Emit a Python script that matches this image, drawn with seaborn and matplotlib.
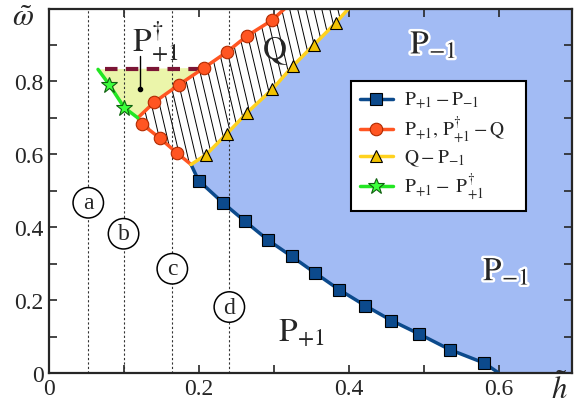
import numpy as np
import seaborn as sns
import matplotlib.pyplot as plt
import matplotlib.patheffects as pe
from matplotlib.patches import Polygon

# boundary P+1 - P-1 (squares), first/last points are line ends
h_blue = [0.190, 0.200, 0.233, 0.262, 0.293, 0.324, 0.355, 0.387, 0.422, 0.457, 0.494, 0.535, 0.581, 0.600]
w_blue = [0.572, 0.528, 0.466, 0.416, 0.364, 0.320, 0.275, 0.229, 0.185, 0.144, 0.107, 0.064, 0.027, 0.000]

# boundary P+1, P+1(dagger) - Q (circles), kink at index 4
h_red = [0.190, 0.171, 0.148, 0.125, 0.119, 0.141, 0.174, 0.207, 0.238, 0.264, 0.298, 0.315]
w_red = [0.572, 0.604, 0.645, 0.682, 0.700, 0.743, 0.791, 0.837, 0.881, 0.924, 0.968, 1.000]

# boundary Q - P-1 (triangles)
h_yel = [0.190, 0.210, 0.238, 0.264, 0.298, 0.326, 0.354, 0.383, 0.400]
w_yel = [0.572, 0.599, 0.657, 0.713, 0.778, 0.843, 0.901, 0.961, 1.000]

# boundary P+1 - P+1(dagger) (stars)
h_grn = [0.066, 0.081, 0.101, 0.119]
w_grn = [0.833, 0.791, 0.728, 0.700]

# dashed upper limit of P+1(dagger)
h_dash = [0.075, 0.207]
w_dash = [0.835, 0.835]

# vertical cuts a-d
cut_h = [0.053, 0.100, 0.165, 0.241]
cut_w = [0.467, 0.382, 0.286, 0.181]
cut_lab = ['a', 'b', 'c', 'd']

xmax, ymax = 0.697, 1.0

sns.set_style('ticks')
plt.rcParams['font.family'] = ['Liberation Serif', 'DejaVu Serif']
plt.rcParams['mathtext.fontset'] = 'stix'

fig = plt.figure(figsize=(5.74, 4.10), dpi=100)
ax = fig.add_axes([48.5 / 574, 36 / 410, 523 / 574, 364.5 / 410])

col_fill = '#a2bbf4'
col_dag = '#ebf5aa'

# P-1 region
px = h_yel + [xmax, xmax] + h_blue[::-1]
py = w_yel + [ymax, 0.0] + w_blue[::-1]
ax.fill(px, py, color=col_fill, lw=0, zorder=0)

# P+1 dagger region
dx = h_grn + h_red[5:8]
dy = w_grn + w_red[5:8]
ax.fill(dx, dy, color=col_dag, lw=0, zorder=0)

# Q region, hatched with steep lines
q_poly = Polygon(list(zip(h_red + [h_yel[-1]] + h_yel[::-1],
                          w_red + [ymax] + w_yel[::-1])),
                 closed=True, fc='none', ec='none')
ax.add_patch(q_poly)
for x0 in np.arange(0.10, 0.46, 0.0107):
    ln, = ax.plot([x0, x0 - 0.057], [0.5, 1.0], color='black', lw=0.7, zorder=1)
    ln.set_clip_path(q_poly)

# vertical dotted cuts with circled letters
for hc, wc, lab in zip(cut_h, cut_w, cut_lab):
    ax.axvline(hc, color='#333333', lw=0.8, ls=(0, (2, 2)), zorder=1)
    ax.text(hc, wc, lab, ha='center', va='center', fontsize=17, zorder=2,
            bbox=dict(boxstyle='circle,pad=0.2', fc='white', ec='black', lw=1.1))

ax.plot(h_dash, w_dash, color='#7b1535', lw=3, ls=(0, (3, 2)), zorder=3)

sns.lineplot(x=h_blue, y=w_blue, sort=False, estimator=None, ax=ax, color='#0c4a8c', lw=2.5,
             marker='s', markevery=list(range(1, len(h_blue) - 1)), ms=8, mfc='#0c4a8c',
             mec='black', mew=0.8, label=r'$\mathrm{P}_{+1}-\mathrm{P}_{-1}$', zorder=4)
sns.lineplot(x=h_red, y=w_red, sort=False, estimator=None, ax=ax, color='#ff5522', lw=2.5,
             marker='o', markevery=[1, 2, 3, 5, 6, 7, 8, 9, 10], ms=9, mfc='#ff5522',
             mec='#b02a00', mew=0.8,
             label=r'$\mathrm{P}_{+1},\,\mathrm{P}^{\dagger}_{+1}-\mathrm{Q}$', zorder=4)
sns.lineplot(x=h_yel, y=w_yel, sort=False, estimator=None, ax=ax, color='#ffd21f', lw=2.5,
             marker='^', markevery=list(range(1, len(h_yel) - 1)), ms=9, mfc='#f2c200',
             mec='black', mew=0.8, label=r'$\mathrm{Q}-\mathrm{P}_{-1}$', zorder=4)
sns.lineplot(x=h_grn, y=w_grn, sort=False, estimator=None, ax=ax, color='#22e622', lw=2.5,
             marker='*', markevery=[1, 2], ms=12, mfc='#3cff3c', mec='#106010', mew=0.8,
             label=r'$\mathrm{P}_{+1}-\ \mathrm{P}^{\dagger}_{+1}$', zorder=4)

# region labels
outline = [pe.withStroke(linewidth=3.5, foreground='white')]
ax.text(0.111, 0.885, r'$\mathrm{P}^{\dagger}_{+1}$', fontsize=24, ha='left', va='baseline', zorder=5)
ax.text(0.284, 0.863, r'$\mathrm{Q}$', fontsize=24, ha='left', va='baseline', zorder=5)
ax.text(0.482, 0.876, r'$\mathrm{P}_{-1}$', fontsize=24, ha='left', va='baseline', zorder=5,
        path_effects=outline)
ax.text(0.579, 0.254, r'$\mathrm{P}_{-1}$', fontsize=24, ha='left', va='baseline', zorder=5,
        path_effects=outline)
ax.text(0.306, 0.088, r'$\mathrm{P}_{+1}$', fontsize=24, ha='left', va='baseline', zorder=5)
ax.plot([0.122, 0.122], [0.871, 0.778], color='black', lw=1.0, zorder=5)
ax.plot([0.122], [0.778], 'o', color='black', ms=3, zorder=5)

ax.set_xlim(0, xmax)
ax.set_ylim(0, ymax)
ax.set_xticks([0, 0.2, 0.4, 0.6], ['0', '0.2', '0.4', '0.6'])
ax.set_xticks([0.1, 0.3, 0.5], minor=True)
ax.set_yticks([0, 0.2, 0.4, 0.6, 0.8], ['0', '0.2', '0.4', '0.6', '0.8'])
ax.set_yticks([0.1, 0.3, 0.5, 0.7, 0.9], minor=True)
ax.tick_params(which='both', direction='in', top=True, right=True, labelsize=17, width=1.2)
ax.tick_params(which='major', length=6)
ax.tick_params(which='minor', length=6)
for sp in ax.spines.values():
    sp.set_linewidth(1.6)
    sp.set_zorder(6)

fig.text(23 / 574, 1 - 18 / 410, r'$\tilde{\omega}$', fontsize=22, ha='center', va='center')
fig.text(559 / 574, 1 - 390 / 410, r'$\tilde{h}$', fontsize=22, ha='center', va='center')

leg = ax.legend(loc='upper left', bbox_to_anchor=(0.578, 0.44, 0.335, 0.36), mode='expand',
                fontsize=14, handlelength=1.7, labelspacing=0.15, fancybox=False, framealpha=1,
                edgecolor='black', borderpad=0.45, handletextpad=0.6, borderaxespad=0)
leg.get_frame().set_linewidth(1.5)
leg.set_zorder(7)

fig.savefig('out.png', dpi=100)
